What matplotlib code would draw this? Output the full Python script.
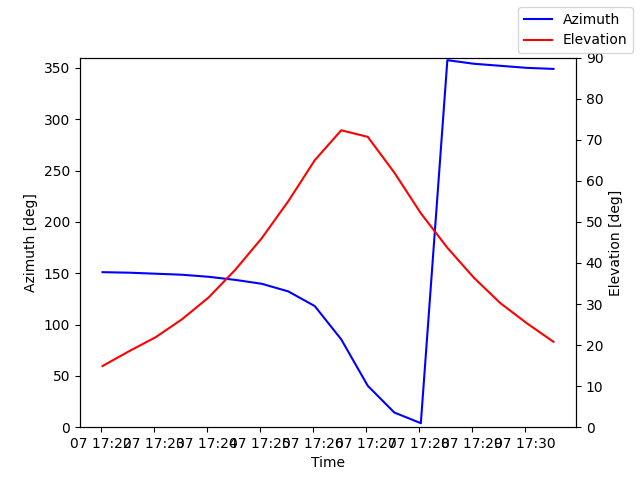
import numpy as np
import pandas as pd
import matplotlib
matplotlib.use("Agg")
import matplotlib.pyplot as plt
import matplotlib.dates as mdates

# pass of a satellite, sampled every 30 s
start = "2023-03-07 17:22:02"
n_samples = 18
azimuth = [151.0, 150.5, 149.5, 148.5, 146.5, 143.5, 139.7, 132.3, 118.0,
           85.5, 40.3, 14.3, 3.9, 357.5, 354.0, 352.0, 350.0, 349.0]
elevation = [14.9, 18.5, 21.9, 26.3, 31.6, 38.3, 46.0, 55.0, 65.0,
             72.3, 70.7, 62.0, 52.1, 43.7, 36.4, 30.2, 25.3, 20.8]

times = pd.date_range(start, periods=n_samples, freq="30s")

fig, ax1 = plt.subplots(figsize=(6.4, 4.8), dpi=100)
ax2 = ax1.twinx()

ax1.plot(times, azimuth, color='b', label='Azimuth')
ax2.plot(times, elevation, color='r', label='Elevation')

ax1.set_ylim(0, 360)
ax2.set_ylim(0, 90)
ax1.set_xlabel('Time')
ax1.set_ylabel('Azimuth [deg]')
ax2.set_ylabel('Elevation [deg]')

ax1.xaxis.set_major_locator(mdates.MinuteLocator(interval=1))
ax1.xaxis.set_major_formatter(mdates.DateFormatter('%d %H:%M'))

fig.legend()
fig.savefig("out.png")
